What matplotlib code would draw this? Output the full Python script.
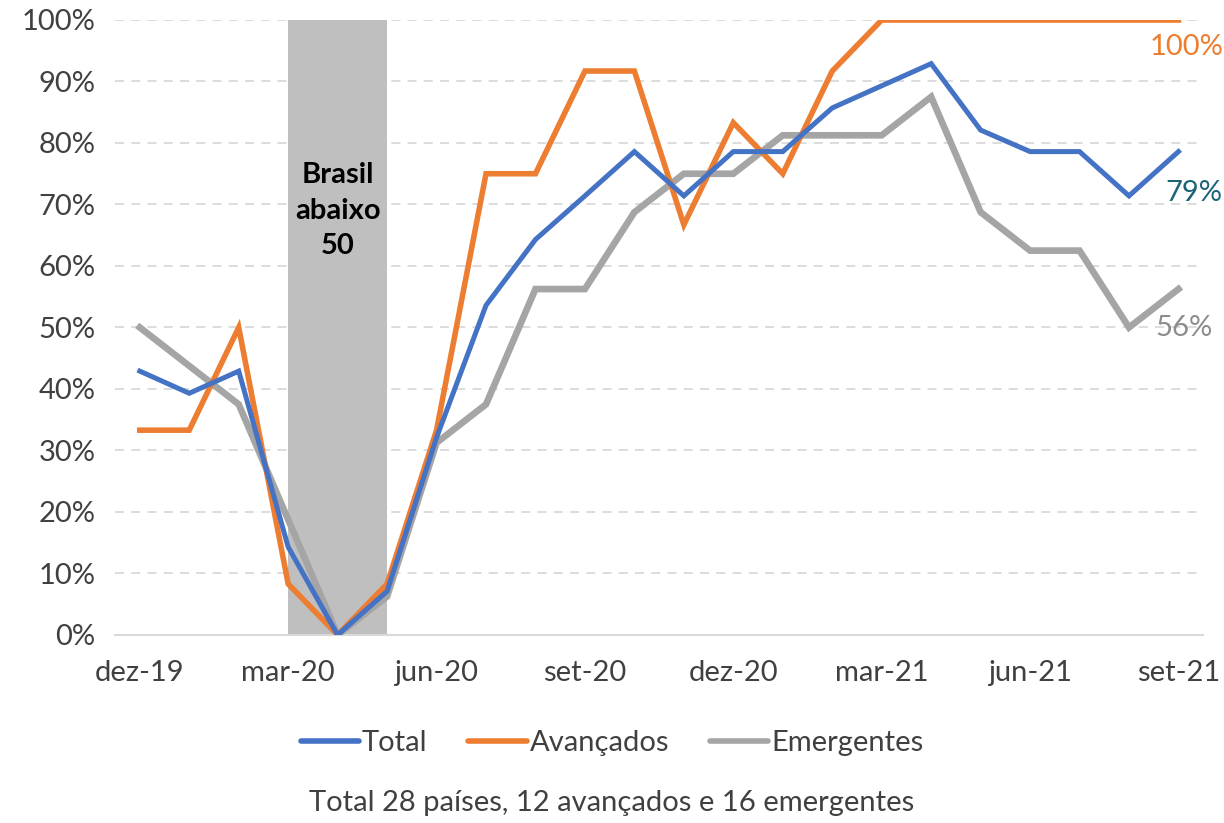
import matplotlib
matplotlib.use('Agg')
import matplotlib.pyplot as plt
from matplotlib.ticker import PercentFormatter

# Monthly share of countries with PMI above 50
months = ['dez-19', 'jan-20', 'fev-20', 'mar-20', 'abr-20', 'mai-20', 'jun-20',
          'jul-20', 'ago-20', 'set-20', 'out-20', 'nov-20', 'dez-20', 'jan-21',
          'fev-21', 'mar-21', 'abr-21', 'mai-21', 'jun-21', 'jul-21', 'ago-21', 'set-21']
total = [42.9, 39.3, 42.9, 14.3, 0.0, 7.1, 32.1, 53.6, 64.3, 71.4, 78.6, 71.4,
         78.6, 78.6, 85.7, 89.3, 92.9, 82.1, 78.6, 78.6, 71.4, 78.6]
avancados = [33.3, 33.3, 50.0, 8.3, 0.0, 8.3, 33.3, 75.0, 75.0, 91.7, 91.7, 66.7,
             83.3, 75.0, 91.7, 100, 100, 100, 100, 100, 100, 100]
emergentes = [50.0, 43.75, 37.5, 18.75, 0.0, 6.25, 31.25, 37.5, 56.25, 56.25, 68.75, 75.0,
              75.0, 81.25, 81.25, 81.25, 87.5, 68.75, 62.5, 62.5, 50.0, 56.25]
tick_labels = months[::3]

FONT = 'Lato'
plt.rcParams['font.family'] = [FONT, 'DejaVu Sans']
FS = 21

fig = plt.figure(figsize=(12.24, 8.23), dpi=100)
ax = fig.add_axes([0.094, 0.2285, 0.889, 0.7472])

x = list(range(len(months)))

# Shaded period (Brasil abaixo de 50)
ax.axvspan(3, 5, color='#BFBFBF', zorder=1, lw=0)
ax.text(4, 69.0, 'Brasil\nabaixo\n50', ha='center', va='center', fontsize=FS,
        fontweight='bold', color='black', linespacing=1.45, zorder=2)

ax.plot(x, total, color='#4472C4', lw=3.6, label='Total', zorder=5, solid_joinstyle='miter')
ax.plot(x, avancados, color='#ED7D31', lw=4.0, label='Avançados', zorder=4, solid_joinstyle='miter')
ax.plot(x, emergentes, color='#A5A5A5', lw=4.8, label='Emergentes', zorder=3, solid_joinstyle='miter')

# End labels
ax.annotate('100%', (x[-1], avancados[-1]), xytext=(8, -27), textcoords='offset pixels',
            ha='center', va='center', fontsize=FS, color='#ED7D31')
ax.annotate('79%', (x[-1], total[-1]), xytext=(15, -41), textcoords='offset pixels',
            ha='center', va='center', fontsize=FS, color='#1B6379')
ax.annotate('56%', (x[-1], emergentes[-1]), xytext=(5, -39), textcoords='offset pixels',
            ha='center', va='center', fontsize=FS, color='#8C8C8C')

ax.set_xlim(-0.5, len(months) - 0.5)
ax.set_ylim(0, 100)
ax.set_yticks(range(0, 101, 10))
ax.yaxis.set_major_formatter(PercentFormatter(decimals=0))
ax.set_xticks(x[::3])
ax.set_xticklabels(tick_labels)
ax.tick_params(axis='both', length=0, labelsize=FS, colors='#404040')
ax.tick_params(axis='x', pad=18)
ax.tick_params(axis='y', pad=14)

ax.grid(axis='y', color='#D9D9D9', linestyle=(0, (5, 4)), lw=1.3, zorder=0)
for s in ['top', 'right', 'left']:
    ax.spines[s].set_visible(False)
ax.spines['bottom'].set_color('#D9D9D9')
ax.spines['bottom'].set_linewidth(1.5)
ax.set_axisbelow(True)

leg = fig.legend(loc='center', bbox_to_anchor=(0.5, 0.097), ncol=3, frameon=False,
                 fontsize=FS, handlelength=2.0, handletextpad=0.1, columnspacing=1.4)
for t in leg.get_texts():
    t.set_color('#404040')
for h in leg.get_lines():
    h.set_linewidth(4)
    h.set_solid_capstyle('round')

fig.text(0.5, 0.024, 'Total 28 países, 12 avançados e 16 emergentes', ha='center',
         va='center', fontsize=FS, color='#404040')

fig.savefig('out.png', dpi=100)
